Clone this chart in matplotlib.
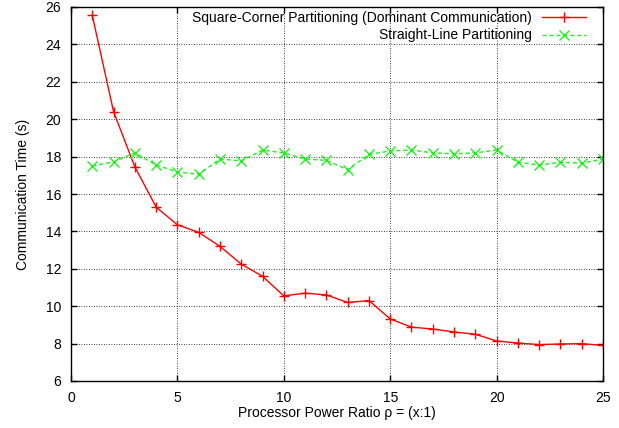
import matplotlib
matplotlib.use("Agg")
import matplotlib.pyplot as plt

x = list(range(1, 26))
square_corner = [25.55, 20.4, 17.45, 15.3, 14.35, 13.95, 13.2, 12.25, 11.6, 10.55,
                 10.7, 10.6, 10.2, 10.3, 9.32, 8.88, 8.78, 8.62, 8.5, 8.14,
                 8.03, 7.95, 7.98, 8.0, 7.9]
straight_line = [17.5, 17.72, 18.2, 17.55, 17.18, 17.06, 17.87, 17.77, 18.35, 18.2,
                 17.87, 17.8, 17.3, 18.12, 18.3, 18.35, 18.2, 18.15, 18.2, 18.35,
                 17.7, 17.55, 17.7, 17.65, 17.87]
xticks = [0, 5, 10, 15, 20, 25]
yticks = list(range(6, 27, 2))

plt.rcParams['font.family'] = ['Liberation Sans', 'DejaVu Sans']
fig = plt.figure(figsize=(6.19, 4.28), dpi=100)
W, H = 619, 428
ax = fig.add_axes([71/W, 1-381/H, (603-71)/W, (381-7)/H])
aw, ah = 603-71, 381-7

ax.plot(x, square_corner, color='#ff0000', lw=1.0, marker='+', ms=7, mew=1.0,
        label='Square-Corner Partitioning (Dominant Communication)')
ax.plot(x, straight_line, color='#22ee22', lw=1.0, ls=(0, (3, 2)), marker='x', ms=7, mew=1.0,
        label='Straight-Line Partitioning')

ax.set_xlim(0, 25)
ax.set_ylim(6, 26)
ax.set_xticks(xticks)
ax.set_yticks(yticks)
ax.grid(True, color='black', ls=(0, (1, 2)), lw=0.6)
ax.tick_params(direction='in', top=True, right=True, labelsize=10, length=4, width=1.0)
ax.tick_params(axis='y', pad=7)
ax.tick_params(axis='x', pad=7)
for s in ax.spines.values():
    s.set_linewidth(1.0)
ax.set_xlabel('Processor Power Ratio ρ = (x:1)', fontsize=10)
ax.set_ylabel('Communication Time (s)', fontsize=10)
ax.xaxis.set_label_coords(0.5, -(406-381)/ah)
ax.yaxis.set_label_coords(-(71-30)/aw, 0.5)

leg = ax.legend(loc='upper right', frameon=False, markerfirst=False, fontsize=10,
                handlelength=3.2, handletextpad=0.7, borderpad=0, borderaxespad=0,
                labelspacing=0.25, bbox_to_anchor=(1-17/aw, 1-4/ah))
for t in leg.get_texts():
    t.set_ha('right')
leg._legend_box.align = 'right'

fig.savefig('out.png', dpi=100)
